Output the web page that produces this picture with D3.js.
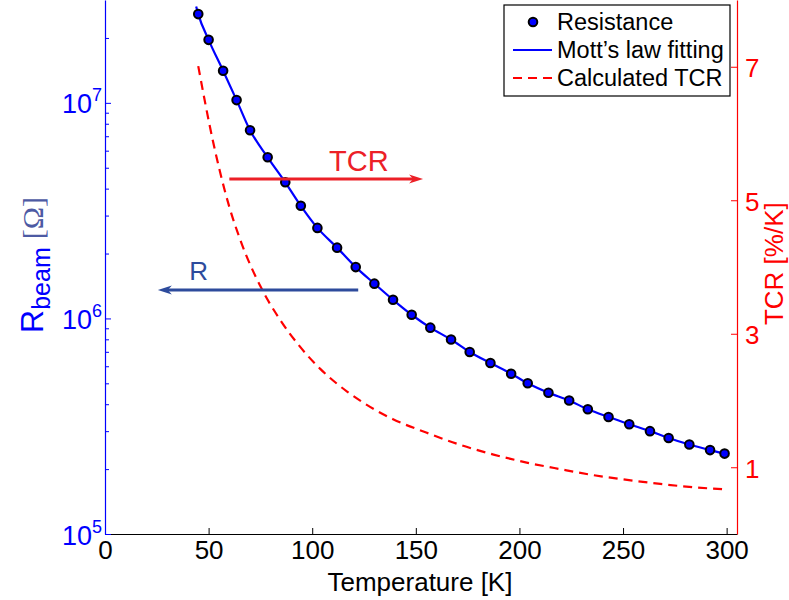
<!DOCTYPE html>
<html>
<head>
<meta charset="utf-8">
<script src="https://cdn.jsdelivr.net/npm/d3@7"></script>
<style>
  body { margin: 0; background: #fff; }
  svg { display: block; font-family: "Liberation Sans", Arial, sans-serif; }
</style>
</head>
<body>
<div id="chart"></div>
<script>
// measured resistance (log axis, left)
const temperatures = [45, 50, 57, 63.5, 70, 78.5, 87, 94.5, 102.5, 112, 121, 130, 139, 148, 157, 167, 176, 186, 196, 204, 214, 224, 233, 243, 253, 263, 272, 282, 292, 299];
const resistance = [2.58e7, 1.96e7, 1.41e7, 1.03e7, 7.46e6, 5.59e6, 4.28e6, 3.33e6, 2.63e6, 2.13e6, 1.73e6, 1.45e6, 1.22e6, 1.04e6, 9.06e5, 7.98e5, 6.99e5, 6.21e5, 5.54e5, 5.0e5, 4.52e5, 4.16e5, 3.79e5, 3.49e5, 3.23e5, 3.0e5, 2.79e5, 2.6e5, 2.45e5, 2.36e5];

// Mott's law fit curve
const fitTemps = [44, ...temperatures];
const fitResistance = [2.8e7, ...resistance];

// calculated TCR (linear axis, right)
const tcrTemps = [45, 52, 60, 65, 75.5, 84.5, 94, 104, 117, 125, 139, 155, 171, 187.5, 203.5, 220, 236, 252, 268, 284, 299];
const tcrValues = [7.01, 5.9, 4.9, 4.43, 3.68, 3.21, 2.81, 2.47, 2.13, 1.96, 1.72, 1.52, 1.34, 1.19, 1.07, 0.97, 0.88, 0.81, 0.75, 0.70, 0.67];

const xTicks = [0, 50, 100, 150, 200, 250, 300];
const rTicks = [1e5, 1e6, 1e7];
const rMinorTicks = [2e5, 3e5, 4e5, 5e5, 6e5, 7e5, 8e5, 9e5, 2e6, 3e6, 4e6, 5e6, 6e6, 7e6, 8e6, 9e6, 2e7];
const tcrTicks = [1, 3, 5, 7];

const legendItems = ['Resistance', 'Mott\u2019s law fitting', 'Calculated TCR'];

const width = 789;
const height = 600;
const plot = { left: 105, right: 737, top: 0, bottom: 534 };

const BLUE = '#0000ff';
const RED = '#ff0000';
const ARROW_RED = '#ec2027';
const ARROW_BLUE = '#2d4b9c';

const svg = d3.select('#chart').append('svg')
  .attr('width', width)
  .attr('height', height);

const x = d3.scaleLinear().domain([0, 305]).range([plot.left, plot.right]);
const yR = d3.scaleLog().domain([1e5, 3e7]).range([plot.bottom, plot.top]);
const yT = d3.scaleLinear().domain([0, 8]).range([plot.bottom, plot.top]);

// ---- axes ----
const xAxis = svg.append('g')
  .attr('transform', `translate(0,${plot.bottom})`)
  .call(d3.axisBottom(x).tickValues(xTicks).tickSizeInner(-6).tickSizeOuter(0).tickFormat(''));
xAxis.select('.domain').attr('stroke', '#000').attr('stroke-width', 1.2);
xAxis.selectAll('.tick line').attr('stroke', '#000');
xAxis.selectAll('.tick').append('text')
  .attr('y', 25)
  .attr('fill', '#000')
  .attr('font-size', 26)
  .attr('text-anchor', 'middle')
  .text((d) => d);

const leftMinor = svg.append('g')
  .attr('transform', `translate(${plot.left},0)`)
  .call(d3.axisLeft(yR).tickValues(rMinorTicks).tickSizeInner(-4).tickSizeOuter(0).tickFormat(''));
leftMinor.select('.domain').remove();
leftMinor.selectAll('.tick line').attr('stroke', BLUE);

const leftAxis = svg.append('g')
  .attr('transform', `translate(${plot.left},0)`)
  .call(d3.axisLeft(yR).tickValues(rTicks).tickSizeInner(-6).tickSizeOuter(0).tickFormat(''));
leftAxis.select('.domain').attr('stroke', BLUE).attr('stroke-width', 1.2);
leftAxis.selectAll('.tick line').attr('stroke', BLUE);
const rLabel = leftAxis.selectAll('.tick').append('text')
  .attr('x', -3)
  .attr('y', 10)
  .attr('fill', BLUE)
  .attr('text-anchor', 'end')
  .attr('font-size', 27);
rLabel.append('tspan').text('10');
rLabel.append('tspan')
  .attr('dy', -12)
  .attr('font-size', 18)
  .text((d) => Math.round(Math.log10(d)));

const rightAxis = svg.append('g')
  .attr('transform', `translate(${plot.right},0)`)
  .call(d3.axisRight(yT).tickValues(tcrTicks).tickSizeInner(-6).tickSizeOuter(0).tickFormat(''));
rightAxis.select('.domain').attr('stroke', RED).attr('stroke-width', 1.2);
rightAxis.selectAll('.tick line').attr('stroke', RED);
rightAxis.selectAll('.tick').append('text')
  .attr('x', 8)
  .attr('y', 10)
  .attr('fill', RED)
  .attr('font-size', 26)
  .text((d) => d);

// axis titles
svg.append('text')
  .attr('x', x(152))
  .attr('y', 591)
  .attr('text-anchor', 'middle')
  .attr('font-size', 26)
  .attr('fill', '#000')
  .text('Temperature [K]');

svg.append('text')
  .attr('transform', `translate(783,${yT(4.05)}) rotate(-90)`)
  .attr('text-anchor', 'middle')
  .attr('font-size', 26)
  .attr('fill', RED)
  .text('TCR [%/K]');

const yTitle = svg.append('text')
  .attr('transform', `translate(43,${yR(1.77e6)}) rotate(-90)`)
  .attr('text-anchor', 'middle')
  .attr('fill', BLUE);
yTitle.append('tspan').attr('font-size', 32).text('R');
yTitle.append('tspan').attr('font-size', 25).attr('dy', 7).text('beam');
yTitle.append('tspan')
  .attr('dy', -7)
  .attr('dx', 8)
  .attr('font-size', 30)
  .attr('font-family', '"Liberation Serif", "Times New Roman", serif')
  .attr('fill', '#4d5aa3')
  .text('[\u03A9]');

// ---- data ----
const tcrLine = d3.line()
  .x((d, i) => x(tcrTemps[i]))
  .y((d) => yT(d))
  .curve(d3.curveMonotoneX);

svg.append('path')
  .datum(tcrValues)
  .attr('d', tcrLine)
  .attr('fill', 'none')
  .attr('stroke', RED)
  .attr('stroke-width', 2.2)
  .attr('stroke-dasharray', '9,6');

const fitLine = d3.line()
  .x((d, i) => x(fitTemps[i]))
  .y((d) => yR(d))
  .curve(d3.curveMonotoneX);

svg.append('path')
  .datum(fitResistance)
  .attr('d', fitLine)
  .attr('fill', 'none')
  .attr('stroke', BLUE)
  .attr('stroke-width', 2.2);

svg.append('g')
  .selectAll('circle')
  .data(resistance)
  .join('circle')
  .attr('cx', (d, i) => x(temperatures[i]))
  .attr('cy', (d) => yR(d))
  .attr('r', 4.3)
  .attr('fill', BLUE)
  .attr('stroke', '#000')
  .attr('stroke-width', 2);

// ---- annotation arrows ----
function arrow(x1, x2, yPos, color) {
  const dir = Math.sign(x2 - x1);
  const g = svg.append('g');
  g.append('line')
    .attr('x1', x1).attr('x2', x2 - dir * 8)
    .attr('y1', yPos).attr('y2', yPos)
    .attr('stroke', color)
    .attr('stroke-width', 3);
  g.append('path')
    .attr('d', `M${x2},${yPos} L${x2 - dir * 14},${yPos - 4.5} L${x2 - dir * 10},${yPos} L${x2 - dir * 14},${yPos + 4.5} Z`)
    .attr('fill', color);
  return g;
}

const tcrArrowY = yT(5.32);
arrow(x(60), x(153.5), tcrArrowY, ARROW_RED);
svg.append('text')
  .attr('x', x(122.5))
  .attr('y', tcrArrowY - 8)
  .attr('text-anchor', 'middle')
  .attr('font-size', 29)
  .attr('fill', ARROW_RED)
  .text('TCR');

const rArrowY = yR(1.355e6);
arrow(x(122.2), x(25.5), rArrowY, ARROW_BLUE);
svg.append('text')
  .attr('x', x(45.2))
  .attr('y', rArrowY - 10)
  .attr('text-anchor', 'middle')
  .attr('font-size', 26)
  .attr('fill', ARROW_BLUE)
  .text('R');

// ---- legend ----
const legend = svg.append('g').attr('transform', 'translate(504,5)');
legend.append('rect')
  .attr('width', 226)
  .attr('height', 91)
  .attr('fill', '#fff')
  .attr('stroke', '#000')
  .attr('stroke-width', 1.2);

const rows = legend.selectAll('g.row')
  .data(legendItems)
  .join('g')
  .attr('class', 'row')
  .attr('transform', (d, i) => `translate(0,${17 + i * 28})`);

rows.append('text')
  .attr('x', 53)
  .attr('y', 8)
  .attr('font-size', 23.5)
  .attr('fill', '#000')
  .text((d) => d);

rows.filter((d, i) => i === 0).append('circle')
  .attr('cx', 29).attr('cy', 0).attr('r', 4.3)
  .attr('fill', BLUE).attr('stroke', '#000').attr('stroke-width', 2);

rows.filter((d, i) => i === 1).append('line')
  .attr('x1', 9).attr('x2', 48)
  .attr('stroke', BLUE).attr('stroke-width', 2.2);

rows.filter((d, i) => i === 2).append('line')
  .attr('x1', 9).attr('x2', 48)
  .attr('stroke', RED).attr('stroke-width', 2.2)
  .attr('stroke-dasharray', '9,6');
</script>
</body>
</html>
